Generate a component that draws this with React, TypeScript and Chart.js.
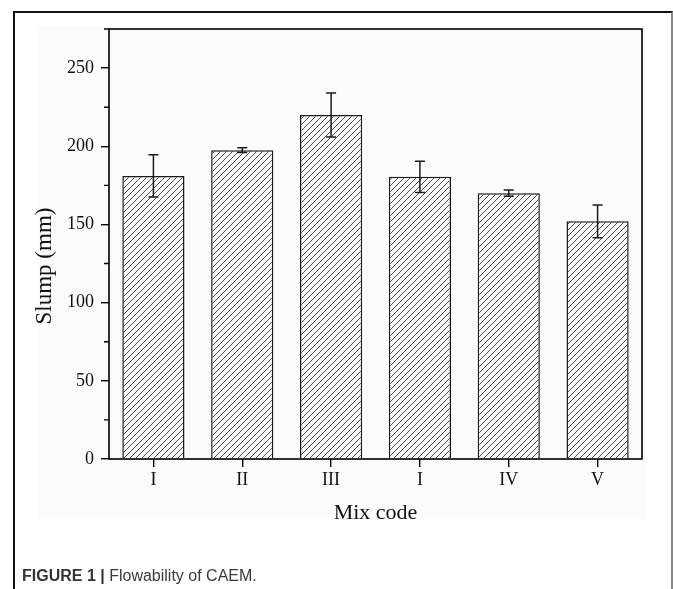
import React, { useEffect, useRef } from "react";
import { Chart, registerables } from "chart.js";

Chart.register(...registerables);

const categories = ["I", "II", "III", "I", "IV", "V"];
const slump = [181, 197.5, 220, 180.5, 170, 152];
const slumpErr = [13.5, 1.5, 14, 10, 2, 10.5];
const yMajorTicks = [0, 50, 100, 150, 200, 250];
const yMinorTicks = [25, 75, 125, 175, 225, 275];
const yMin = 0;
const yMax = 275;
const yTitleText = "Slump (mm)";
const xTitleText = "Mix code";

const SERIF = "'Liberation Serif', 'DejaVu Serif', serif";

function makeHatch(): CanvasPattern | string {
  const s = 6;
  const c = document.createElement("canvas");
  c.width = s;
  c.height = s;
  const g = c.getContext("2d");
  if (!g) return "#fff";
  g.fillStyle = "#fdfdfd";
  g.fillRect(0, 0, s, s);
  g.strokeStyle = "#3a3a3a";
  g.lineWidth = 0.9;
  g.beginPath();
  g.moveTo(0, s);
  g.lineTo(s, 0);
  g.moveTo(-1, 1);
  g.lineTo(1, -1);
  g.moveTo(s - 1, s + 1);
  g.lineTo(s + 1, s - 1);
  g.stroke();
  const p = g.createPattern(c, "repeat");
  return p || "#fff";
}

const errorBarPlugin = {
  id: "errorBars",
  afterDatasetsDraw(chart: any) {
    const { ctx } = chart;
    const yScale = chart.scales.y;
    const meta = chart.getDatasetMeta(0);
    ctx.save();
    ctx.strokeStyle = "#1a1a1a";
    ctx.lineWidth = 1.5;
    meta.data.forEach((bar: any, i: number) => {
      const v = slump[i];
      const e = slumpErr[i];
      const yt = yScale.getPixelForValue(v + e);
      const yb = yScale.getPixelForValue(v - e);
      const x = bar.x;
      const cap = 5;
      ctx.beginPath();
      ctx.moveTo(x, yt);
      ctx.lineTo(x, yb);
      ctx.moveTo(x - cap, yt);
      ctx.lineTo(x + cap, yt);
      ctx.moveTo(x - cap, yb);
      ctx.lineTo(x + cap, yb);
      ctx.stroke();
    });
    ctx.restore();
  },
};

const framePlugin = {
  id: "frame",
  afterDraw(chart: any) {
    const { ctx, chartArea } = chart;
    const yScale = chart.scales.y;
    ctx.save();
    ctx.strokeStyle = "#000";
    ctx.lineWidth = 1.6;
    ctx.strokeRect(
      chartArea.left,
      chartArea.top,
      chartArea.right - chartArea.left,
      chartArea.bottom - chartArea.top
    );
    ctx.lineWidth = 1.4;
    ctx.beginPath();
    yMinorTicks.forEach((v) => {
      const y = yScale.getPixelForValue(v);
      ctx.moveTo(chartArea.left - 5, y);
      ctx.lineTo(chartArea.left, y);
    });
    ctx.stroke();
    // y axis title (slightly below the axis centre, as in the original)
    ctx.fillStyle = "#111";
    ctx.font = `23px ${SERIF}`;
    ctx.textAlign = "center";
    ctx.textBaseline = "middle";
    ctx.translate(45, 266);
    ctx.rotate(-Math.PI / 2);
    ctx.fillText(yTitleText, 0, 0);
    ctx.restore();
  },
};

export default function App() {
  const ref = useRef<HTMLCanvasElement | null>(null);

  useEffect(() => {
    if (!ref.current) return;
    const hatch = makeHatch();
    const chart = new Chart(ref.current, {
      type: "bar",
      data: {
        labels: categories,
        datasets: [
          {
            label: "Slump",
            data: slump,
            backgroundColor: hatch as any,
            borderColor: "#1a1a1a",
            borderWidth: 1.5,
            barPercentage: 0.7,
            categoryPercentage: 1,
          },
        ],
      },
      options: {
        animation: false,
        responsive: false,
        maintainAspectRatio: false,
        devicePixelRatio: 1,
        layout: { padding: { left: 0, top: 29, right: 31, bottom: 63 } },
        plugins: {
          legend: { display: false },
          tooltip: { enabled: false },
        },
        scales: {
          x: {
            type: "category",
            offset: true,
            border: { display: false },
            grid: {
              display: true,
              drawOnChartArea: false,
              drawTicks: true,
              tickLength: 8,
              offset: false,
              color: "#000",
              lineWidth: 1.4,
            },
            ticks: {
              color: "#111",
              padding: 2,
              font: { family: SERIF, size: 18 },
            },
            title: {
              display: true,
              text: xTitleText,
              color: "#111",
              padding: { top: 0, bottom: 0 },
              font: { family: SERIF, size: 22 },
            },
            afterFit(scale: any) {
              scale.height = 67;
            },
          },
          y: {
            type: "linear",
            min: yMin,
            max: yMax,
            border: { display: false },
            grid: {
              display: true,
              drawOnChartArea: false,
              drawTicks: true,
              tickLength: 8,
              color: "#000",
              lineWidth: 1.4,
            },
            ticks: {
              color: "#111",
              padding: 7,
              font: { family: SERIF, size: 18 },
            },
            afterBuildTicks(scale: any) {
              scale.ticks = yMajorTicks.map((v) => ({ value: v }));
            },
            title: { display: false },
            afterFit(scale: any) {
              scale.width = 109;
            },
          },
        },
      },
      plugins: [errorBarPlugin, framePlugin],
    });
    return () => chart.destroy();
  }, []);

  return (
    <div
      style={{
        position: "absolute",
        left: 0,
        top: 0,
        width: 673,
        height: 589,
        background: "#fff",
        overflow: "hidden",
      }}
    >
      <div
        style={{
          position: "absolute",
          left: 13,
          top: 11,
          width: 660,
          height: 600,
          borderLeft: "2px solid #111",
          borderTop: "2px solid #111",
          borderRight: "2px solid #888",
          boxSizing: "border-box",
        }}
      />
      <div
        style={{
          position: "absolute",
          left: 37,
          top: 26,
          width: 608,
          height: 493,
          background: "#fbfbfb",
        }}
      />
      <canvas
        ref={ref}
        width={673}
        height={589}
        style={{ position: "absolute", left: 0, top: 0, width: 673, height: 589 }}
      />
      <div
        style={{
          position: "absolute",
          left: 22,
          top: 566,
          fontFamily: "'Liberation Sans', Arial, sans-serif",
          fontSize: 16,
          color: "#3a3a3a",
          whiteSpace: "nowrap",
          lineHeight: "20px",
        }}
      >
        <span style={{ fontWeight: "bold", color: "#333" }}>FIGURE 1 | </span>
        Flowability of CAEM.
      </div>
    </div>
  );
}
